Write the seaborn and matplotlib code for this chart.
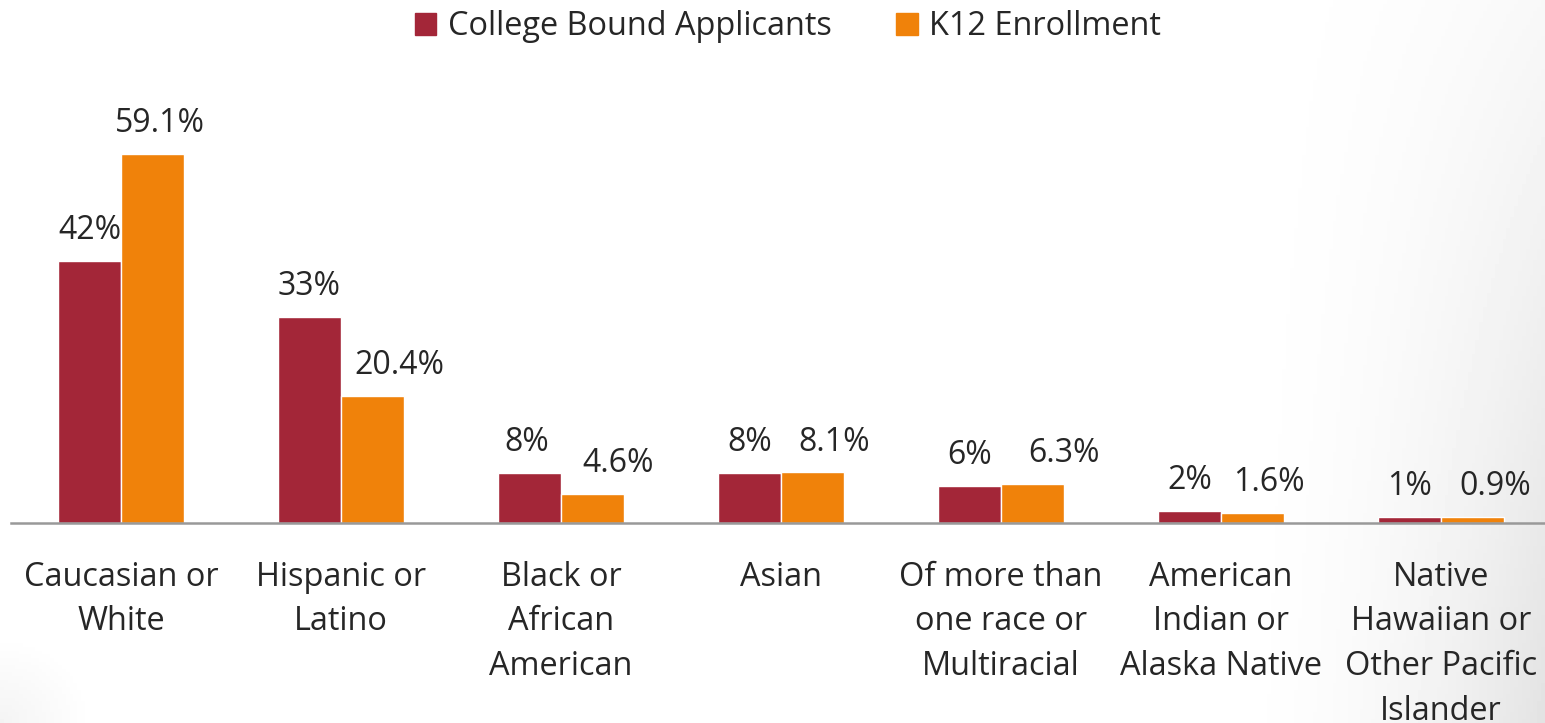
import matplotlib
matplotlib.use("Agg")
import matplotlib.pyplot as plt
import seaborn as sns
import pandas as pd
import numpy as np

categories = ["Caucasian or\nWhite", "Hispanic or\nLatino", "Black or\nAfrican\nAmerican", "Asian",
              "Of more than\none race or\nMultiracial", "American\nIndian or\nAlaska Native",
              "Native\nHawaiian or\nOther Pacific\nIslander"]
college = [42, 33, 8, 8, 6, 2, 1]
k12 = [59.1, 20.4, 4.6, 8.1, 6.3, 1.6, 0.9]
college_labels = ["42%", "33%", "8%", "8%", "6%", "2%", "1%"]
k12_labels = ["59.1%", "20.4%", "4.6%", "8.1%", "6.3%", "1.6%", "0.9%"]
series = ["College Bound Applicants", "K12 Enrollment"]
colors = ["#A32638", "#F0820A"]

df = pd.DataFrame({
    "cat": categories * 2,
    "value": college + k12,
    "series": [series[0]] * len(categories) + [series[1]] * len(categories),
})

sns.set_style("white")
plt.rcParams['font.family'] = ['Open Sans', 'DejaVu Sans']

fig = plt.figure(figsize=(15.45, 7.23), dpi=100)

# faint grey shading toward the lower right corner, like the slide background
bg = fig.add_axes([0, 0, 1, 1], zorder=-10)
yy, xx = np.mgrid[0:1:200j, 0:1:400j]
shade = np.clip((xx - 0.78) / 0.22, 0, 1) ** 2 * (0.25 + 0.75 * yy)
shade += np.clip(1 - np.hypot(xx / 0.06, (1 - yy) / 0.12), 0, 1) * 0.4
bg.imshow(1 - 0.11 * np.clip(shade, 0, 1), cmap="gray", vmin=0, vmax=1, aspect="auto",
          extent=[0, 1, 1, 0])
bg.set_axis_off()

ax = fig.add_axes([11 / 1545, 1 - 523 / 723, 1540 / 1545, 406 / 723])
ax.patch.set_alpha(0)

sns.barplot(data=df, x="cat", y="value", hue="series", palette=colors,
            width=0.573, gap=0, saturation=1, ax=ax, legend=False)

label_shift = [[0, 0, -3, 0, 0, 0, 0], [7, 27, 26, 22, 31, 16, 23]]
for cont, labs, shifts in zip(ax.containers, [college_labels, k12_labels], label_shift):
    anns = ax.bar_label(cont, labels=labs, padding=10, fontsize=23)
    for a, dx in zip(anns, shifts):
        a.xyann = (dx * 0.72, a.xyann[1])

ax.set_ylim(0, 65)
ax.set_xlim(-0.5, len(categories) - 0.5)
ax.set_xlabel("")
ax.set_ylabel("")
ax.set_yticks([])

ax.set_xticks(np.arange(len(categories) + 1) - 0.5)
ax.set_xticklabels([])
ax.set_xticks(np.arange(len(categories)), minor=True)
ax.set_xticklabels(categories, minor=True, fontsize=23.4, linespacing=1.47, va="top")
ax.tick_params(axis="x", which="major", length=9, width=1.8, color="#999999", direction="out")
ax.tick_params(axis="x", which="minor", length=0, pad=27)

for s in ["left", "top", "right"]:
    ax.spines[s].set_visible(False)
ax.spines["bottom"].set_color("#999999")
ax.spines["bottom"].set_linewidth(1.8)

handles = [plt.Rectangle((0, 0), 1, 1, color=c) for c in colors]
fig.legend(handles, series, loc="upper center", bbox_to_anchor=(0.51, 1.026), ncol=2,
           frameon=False, fontsize=23.4, handlelength=0.65, handleheight=0.65,
           handletextpad=0.35, columnspacing=2.0)

fig.savefig("out.png", dpi=100)
